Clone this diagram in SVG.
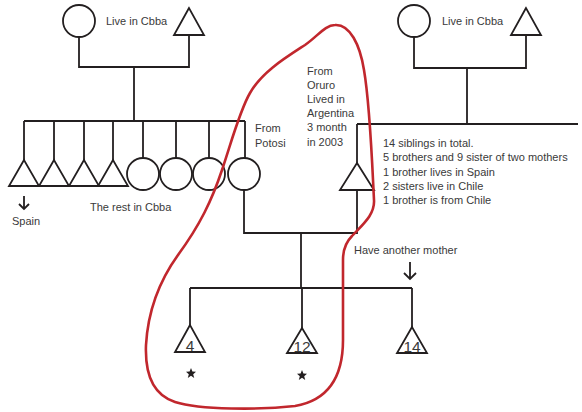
<svg xmlns="http://www.w3.org/2000/svg" width="582" height="412" viewBox="0 0 582 412">
<style>
.n{fill:#fff;stroke:#231f20;stroke-width:1.8}
.c{fill:none;stroke:#231f20;stroke-width:1.8}
.t{font-family:"Liberation Sans",Arial,sans-serif;font-size:11px;fill:#3a3a3a}
.num{font-family:"Liberation Sans",Arial,sans-serif;font-size:15.5px;fill:#3a3a3a;text-anchor:middle}
.star{fill:#231f20}
.red{fill:none;stroke:#c1272d;stroke-width:2.6}
</style>
<rect width="582" height="412" fill="#fff"/>
<g id="connectors" class="c">
<path d="M79,37V67H189V35"/>
<path d="M134,67V121"/>
<path d="M24,121H245"/>
<path d="M24,121V160M54,121V160M84,121V160M113,121V160"/>
<path d="M143,121V158M176,121V158M209,121V158M245,121V158"/>
<path d="M414,37V68H526V35"/>
<path d="M467,68V124"/>
<path d="M357,124H578"/>
<path d="M357,124V163"/>
<path d="M244,190V233H357V190"/>
<path d="M301,233V288"/>
<path d="M190,288H412"/>
<path d="M190,288V325M302,288V328M412,288V327"/>
<path d="M24,196V209M19,204L24,209L29,204"/>
<path d="M410,262V279M404,273L410,279L416,273"/>
</g>
<g id="gp1-mother"><circle class="n" cx="79" cy="21" r="16"/></g>
<g id="gp1-father"><polygon class="n" points="189,8 174,35 204,35"/></g>
<g id="gp2-mother"><circle class="n" cx="414" cy="21" r="16"/></g>
<g id="gp2-father"><polygon class="n" points="526,8 511,35 541,35"/></g>
<g id="sib1"><polygon class="n" points="24,160 9,186 39,186"/></g>
<g id="sib2"><polygon class="n" points="54,160 39,186 69,186"/></g>
<g id="sib3"><polygon class="n" points="84,160 69,186 99,186"/></g>
<g id="sib4"><polygon class="n" points="113,160 98,186 128,186"/></g>
<g id="sib5"><circle class="n" cx="143" cy="174" r="16"/></g>
<g id="sib6"><circle class="n" cx="176" cy="174" r="16"/></g>
<g id="sib7"><circle class="n" cx="209" cy="174" r="16"/></g>
<g id="mother"><circle class="n" cx="244" cy="174" r="16"/></g>
<g id="father"><polygon class="n" points="357,163 340,190 374,190"/></g>
<g id="child4"><polygon class="n" points="190,325 175,352 205,352"/><text class="num" x="190" y="351">4</text></g>
<g id="child12"><polygon class="n" points="302,328 287,353 317,353"/><text class="num" x="302" y="352">12</text></g>
<g id="child14"><polygon class="n" points="412,327 397,353 427,353"/><text class="num" x="412" y="352">14</text></g>
<g id="stars">
<polygon class="star" points="191,368 192.4,371.6 196,371.8 193.2,374.2 194.2,378 191,375.8 187.8,378 188.8,374.2 186,371.8 189.6,371.6"/>
<polygon class="star" points="302,370 303.4,373.6 307,373.8 304.2,376.2 305.2,380 302,377.8 298.8,380 299.8,376.2 297,373.8 300.6,373.6"/>
</g>
<g id="labels">
<text class="t" x="106" y="25">Live in Cbba</text>
<text class="t" x="442" y="25">Live in Cbba</text>
<text class="t" x="255" y="132">From</text>
<text class="t" x="255" y="147">Potosi</text>
<text class="t" x="307" y="75">From</text>
<text class="t" x="307" y="89">Oruro</text>
<text class="t" x="307" y="103">Lived in</text>
<text class="t" x="307" y="117">Argentina</text>
<text class="t" x="307" y="131">3 month</text>
<text class="t" x="307" y="146">in 2003</text>
<text class="t" x="383" y="147">14 siblings in total.</text>
<text class="t" x="383" y="161">5 brothers and 9 sister of two mothers</text>
<text class="t" x="383" y="176">1 brother lives in Spain</text>
<text class="t" x="383" y="190">2 sisters live in Chile</text>
<text class="t" x="383" y="204">1 brother is from Chile</text>
<text class="t" x="12" y="225">Spain</text>
<text class="t" x="90" y="211">The rest in Cbba</text>
<text class="t" x="354" y="254">Have another mother</text>
</g>
<path class="red" d="M335,25 C350,24 360,45 364,70 C370,105 372,160 374,200 C375,215 362,225 352,236 C345,243 343,250 343,260 L343,340 C343,375 330,400 295,406 C260,410 200,410 175,402 C150,394 145,370 146,345 C148,310 160,280 178,255 C200,225 212,200 222,170 C232,140 240,110 250,93 C262,72 285,58 305,45 C318,36 325,25 335,25 Z"/>
</svg>
